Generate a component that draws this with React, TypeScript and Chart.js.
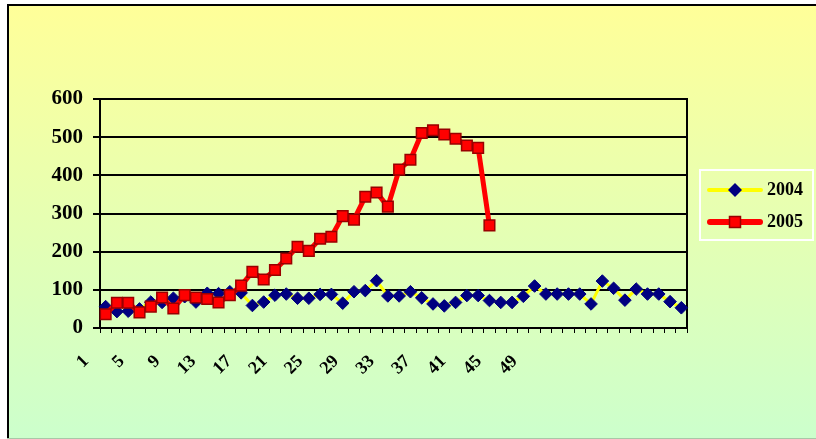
import { useEffect, useRef } from "react";
import { Chart, registerables } from "chart.js";

Chart.register(...registerables);

const weeks = [
  "1", "2", "3", "4", "5", "6", "7", "8", "9", "10", "11", "12", "13",
  "14", "15", "16", "17", "18", "19", "20", "21", "22", "23", "24", "25", "26",
  "27", "28", "29", "30", "31", "32", "33", "34", "35", "36", "37", "38", "39",
  "40", "41", "42", "43", "44", "45", "46", "47", "48", "49", "50", "51", "52",
];

const series2004 = [
  56, 43, 44, 50, 68, 67, 78, 82, 68, 91, 90, 95, 92,
  59, 68, 86, 89, 78, 78, 88, 88, 65, 95, 98, 124, 84,
  84, 95, 79, 63, 58, 67, 85, 85, 72, 67, 67, 83, 110,
  89, 89, 89, 89, 63, 123, 104, 73, 102, 89, 89, 69, 53,
];

const series2005 = [
  36, 66, 66, 41, 56, 80, 51, 86, 80, 76, 67, 86, 111,
  147, 127, 152, 182, 213, 202, 234, 239, 293, 284, 344, 355, 318,
  415, 441, 511, 518, 507, 496, 478, 472, 269,
];

const seriesLabels = ["2004", "2005"];

const xTickWeeks = [1, 5, 9, 13, 17, 21, 25, 29, 33, 37, 41, 45, 49];
const xTickLabels = ["1", "5", "9", "13", "17", "21", "25", "29", "33", "37", "41", "45", "49"];

const Y_MIN = 0;
const Y_MAX = 600;
const Y_STEP = 100;

const FONT = "'Liberation Serif', 'Times New Roman', serif";

function makeIcon(kind: "diamond" | "square"): HTMLCanvasElement {
  const c = document.createElement("canvas");
  c.width = 56;
  c.height = 16;
  const ctx = c.getContext("2d")!;
  ctx.lineCap = "round";
  if (kind === "diamond") {
    ctx.strokeStyle = "#FFFF00";
    ctx.lineWidth = 4;
    ctx.beginPath();
    ctx.moveTo(2, 8);
    ctx.lineTo(54, 8);
    ctx.stroke();
    ctx.fillStyle = "#000080";
    ctx.beginPath();
    ctx.moveTo(28, 1);
    ctx.lineTo(35, 8);
    ctx.lineTo(28, 15);
    ctx.lineTo(21, 8);
    ctx.closePath();
    ctx.fill();
  } else {
    ctx.strokeStyle = "#FF0000";
    ctx.lineWidth = 6;
    ctx.beginPath();
    ctx.moveTo(3, 8);
    ctx.lineTo(53, 8);
    ctx.stroke();
    ctx.fillStyle = "#FF0000";
    ctx.fillRect(22.5, 2.5, 11, 11);
    ctx.strokeStyle = "#990000";
    ctx.lineWidth = 1.5;
    ctx.strokeRect(22.5, 2.5, 11, 11);
  }
  return c;
}

const framePlugin = {
  id: "frame",
  beforeDraw(chart: any) {
    const { ctx, width, height } = chart;
    ctx.save();
    ctx.fillStyle = "#FFFFFF";
    ctx.fillRect(0, 0, width, height);
    const g = ctx.createLinearGradient(0, 6, 0, 438);
    g.addColorStop(0, "#FFFF99");
    g.addColorStop(1, "#CCFFCC");
    ctx.fillStyle = g;
    ctx.fillRect(8, 5, width - 8, 433);
    ctx.fillStyle = "#000000";
    ctx.fillRect(7, 4, 2, 434);
    ctx.fillRect(7, 4, width - 7, 2);
    ctx.fillStyle = "#A8C8A8";
    ctx.fillRect(7, 438, width - 7, 1);
    ctx.restore();
  },
  afterDraw(chart: any) {
    const hb = chart.legend && chart.legend.legendHitBoxes;
    if (!hb || hb.length < 2) return;
    const { ctx } = chart;
    const left = hb[0].left - 12;
    const right = hb[0].left + 101;
    const top = hb[0].top - 11;
    const bottom = hb[1].top + 27;
    ctx.save();
    ctx.strokeStyle = "#FFFFFF";
    ctx.lineWidth = 2;
    ctx.strokeRect(left, top, right - left, bottom - top);
    ctx.restore();
  },
};

export default function App() {
  const ref = useRef<HTMLCanvasElement | null>(null);

  useEffect(() => {
    if (!ref.current) return;
    const icons = [makeIcon("diamond"), makeIcon("square")];
    const chart = new Chart(ref.current, {
      type: "line",
      data: {
        labels: weeks,
        datasets: [
          {
            label: seriesLabels[0],
            data: series2004,
            borderColor: "#FFFF00",
            borderWidth: 3,
            pointStyle: "rectRot",
            pointRadius: 6.3,
            pointBackgroundColor: "#000080",
            pointBorderColor: "#000080",
            pointBorderWidth: 1,
            tension: 0,
            order: 2,
            xAxisID: "x",
            yAxisID: "y",
          },
          {
            label: seriesLabels[1],
            data: series2005,
            borderColor: "#FF0000",
            borderWidth: 5,
            pointStyle: "rect",
            pointRadius: 7.5,
            pointBackgroundColor: "#FF0000",
            pointBorderColor: "#990000",
            pointBorderWidth: 1.5,
            tension: 0,
            order: 1,
            xAxisID: "x",
            yAxisID: "y",
          },
        ],
      },
      options: {
        animation: false,
        responsive: false,
        devicePixelRatio: 1,
        events: [],
        layout: { padding: { top: 99, right: 3, bottom: 0, left: 0 } },
        scales: {
          x: {
            type: "category",
            position: "bottom",
            offset: true,
            weight: 0,
            grid: {
              offset: true,
              drawOnChartArea: false,
              drawTicks: true,
              tickLength: 5,
              color: "#000000",
              lineWidth: 1,
            },
            border: { display: true, color: "#000000", width: 2 },
            ticks: { display: false },
            afterFit: (s: any) => {
              s.height = 5;
            },
          },
          xl: {
            type: "linear",
            position: "bottom",
            weight: 1,
            min: 1,
            max: 66.7,
            grid: { display: false, drawTicks: false },
            border: { display: false },
            afterBuildTicks: (s: any) => {
              s.ticks = xTickWeeks.map((v) => ({ value: v }));
            },
            ticks: {
              autoSkip: false,
              minRotation: 45,
              maxRotation: 45,
              labelOffset: -14,
              padding: 18,
              color: "#000000",
              font: { family: FONT, size: 18, weight: "bold" },
              callback: (_v: any, i: number) => xTickLabels[i],
            },
            afterFit: (s: any) => {
              s.height = 106;
            },
          },
          y: {
            type: "linear",
            position: "left",
            min: Y_MIN,
            max: Y_MAX,
            grid: { color: "#000000", lineWidth: 2, tickLength: 7 },
            border: { display: true, color: "#000000", width: 2 },
            ticks: {
              stepSize: Y_STEP,
              padding: 10,
              color: "#000000",
              font: { family: FONT, size: 21, weight: "bold" },
            },
            afterFit: (s: any) => {
              s.width = 100;
            },
          },
          y2: {
            type: "linear",
            position: "right",
            grid: { drawOnChartArea: false, drawTicks: false },
            border: { display: true, color: "#000000", width: 2 },
            ticks: { display: false },
            afterFit: (s: any) => {
              s.width = 11;
            },
          },
        },
        plugins: {
          tooltip: { enabled: false },
          legend: {
            display: true,
            position: "right",
            align: "start",
            fullSize: false,
            title: {
              display: true,
              text: " ",
              font: { size: 10 },
              padding: { top: 56, bottom: 0 },
            },
            labels: {
              usePointStyle: true,
              pointStyleWidth: 46,
              padding: 14,
              color: "#000000",
              font: { family: FONT, size: 18, weight: "bold" },
              generateLabels: (c: any) =>
                c.data.datasets.map((ds: any, i: number) => ({
                  text: ds.label,
                  pointStyle: icons[i],
                  fillStyle: "transparent",
                  strokeStyle: "transparent",
                  lineWidth: 0,
                  hidden: false,
                  datasetIndex: i,
                  fontColor: "#000000",
                })),
            },
          },
        },
      },
      plugins: [framePlugin],
    } as any);
    return () => chart.destroy();
  }, []);

  return (
    <div style={{ position: "fixed", left: 0, top: 0, width: 816, height: 439 }}>
      <canvas ref={ref} width={816} height={439} style={{ display: "block" }} />
    </div>
  );
}
